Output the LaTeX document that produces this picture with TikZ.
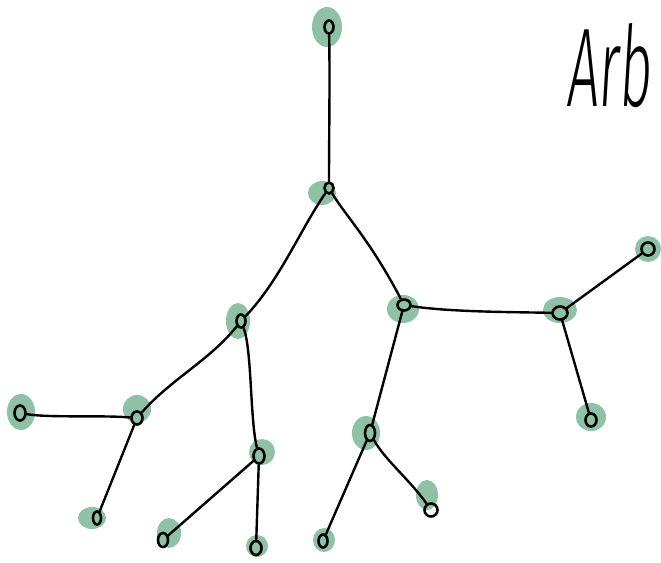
\documentclass[tikz,border=0pt]{standalone}
\usepackage{fontspec}
\newfontfamily\handfont{Fira Sans Light}
\definecolor{blob}{HTML}{8FC1A6}
\tikzset{
  x=1pt,y=-1pt,
  blobfill/.style={fill=blob,draw=none},
  knot/.style={draw=black,line width=2.6pt,ellipse,minimum width=9pt,minimum height=13pt,inner sep=0pt},
  edge/.style={draw=black,line width=2.4pt,line cap=round}
}
\usetikzlibrary{shapes.geometric}
\begin{document}
\begin{tikzpicture}
\useasboundingbox (0,0) rectangle (661,562);
% blobs
\fill[blobfill] (327,27) ellipse (15 and 20);
\fill[blobfill] (322,193) ellipse (14 and 12);
\fill[blobfill] (238,321) ellipse (12 and 18);
\fill[blobfill] (403,309) ellipse (16 and 14);
\fill[blobfill] (560,310) ellipse (17 and 13);
\fill[blobfill] (648,249) ellipse (13 and 13);
\fill[blobfill] (591,417) ellipse (15 and 14);
\fill[blobfill] (137,409) ellipse (14 and 14);
\fill[blobfill] (21,412) ellipse (14 and 18);
\fill[blobfill] (92,518) ellipse (14 and 11);
\fill[blobfill] (262,452) ellipse (13 and 13);
\fill[blobfill] (169,533) ellipse (12 and 15);
\fill[blobfill] (257,546) ellipse (11 and 11);
\fill[blobfill] (366,433) ellipse (14 and 17);
\fill[blobfill] (427,495) ellipse (11 and 15);
\fill[blobfill] (324,540) ellipse (11 and 12);
% nodes
\node[knot] (r) at (329,27) {};
\node[knot,minimum width=9pt,minimum height=11pt] (a) at (329,188) {};
\node[knot] (b) at (241,321) {};
\node[knot,minimum width=13pt,minimum height=11pt] (c) at (404,305) {};
\node[knot,minimum width=15pt,minimum height=13pt] (d) at (560,313) {};
\node[knot,minimum width=13pt,minimum height=13pt] (e) at (648,249) {};
\node[knot,minimum width=11pt,minimum height=13pt] (f) at (591,420) {};
\node[knot,minimum width=11pt,minimum height=13pt] (g) at (137,418) {};
\node[knot,minimum width=11pt,minimum height=15pt] (h) at (20,413) {};
\node[knot,minimum width=8pt,minimum height=13pt] (i) at (97,518) {};
\node[knot,minimum width=11pt,minimum height=15pt] (j) at (259,456) {};
\node[knot,minimum width=10pt,minimum height=14pt] (k) at (163,540) {};
\node[knot,minimum width=11pt,minimum height=14pt] (l) at (256,548) {};
\node[knot,minimum width=10pt,minimum height=16pt] (m) at (370,433) {};
\node[knot,minimum width=13pt,minimum height=13pt] (n) at (431,510) {};
\node[knot,minimum width=9pt,minimum height=13pt] (o) at (323,541) {};
% edges
\draw[edge] (r) .. controls (330,80) and (329,140) .. (a);
\draw[edge] (a) .. controls (300,230) and (280,280) .. (b);
\draw[edge] (a) .. controls (345,215) and (370,240) .. (c);
\draw[edge] (c) .. controls (450,312) and (510,312) .. (d);
\draw[edge] (d) -- (e);
\draw[edge] (d) -- (f);
\draw[edge] (b) .. controls (210,360) and (170,380) .. (g);
\draw[edge] (g) .. controls (100,415) and (50,418) .. (h);
\draw[edge] (g) -- (i);
\draw[edge] (b) .. controls (252,350) and (250,420) .. (j);
\draw[edge] (j) -- (k);
\draw[edge] (j) -- (l);
\draw[edge] (c) -- (m);
\draw[edge] (m) -- (o);
\draw[edge] (m) .. controls (385,460) and (410,480) .. (n);
% title
\node[anchor=south west,inner sep=0pt,xscale=0.5,xslant=0.12] (t) at (566,108) {\handfont\fontsize{112}{112}\selectfont Arb};
\end{tikzpicture}
\end{document}
